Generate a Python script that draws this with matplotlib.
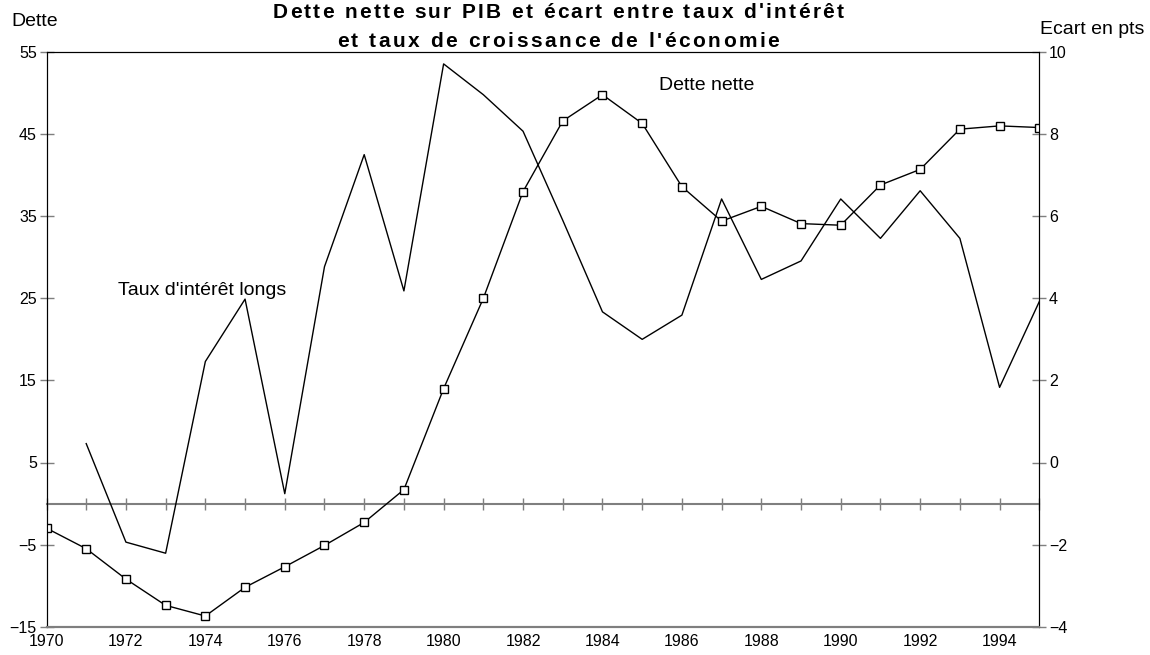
import numpy as np
import matplotlib
matplotlib.use("Agg")
import matplotlib.pyplot as plt

plt.rcParams['font.family'] = ['Liberation Sans', 'DejaVu Sans']

# donnees
annees = list(range(1970, 1996))
dette_nette = [-3.0, -5.5, -9.2, -12.4, -13.7, -10.2, -7.7, -5.1, -2.3, 1.7,
               14.0, 25.0, 38.0, 46.6, 49.8, 46.3, 38.6, 34.4, 36.2, 34.1,
               33.9, 38.8, 40.7, 45.6, 46.0, 45.8]
annees_taux = list(range(1971, 1996))
ecart_taux = [0.46, -1.94, -2.21, 2.46, 3.98, -0.76, 4.77, 7.50, 4.18, 9.71,
              8.96, 8.07, 5.9, 3.67, 3.0, 3.59, 6.42, 4.46, 4.91, 6.42,
              5.46, 6.62, 5.46, 1.83, 3.92]

ticks_gauche = [-15, -5, 5, 15, 25, 35, 45, 55]
ticks_droite = [-4, -2, 0, 2, 4, 6, 8, 10]
annees_labels = list(range(1970, 1996, 2))

W, H = 1150, 655
gris = '#7f7f7f'

fig = plt.figure(figsize=(W / 100, H / 100), dpi=100)
ax = fig.add_axes([46.5 / W, 1 - 626.7 / H, (1039.3 - 46.5) / W, (626.7 - 52) / H])
ax2 = ax.twinx()

ax.plot(annees, dette_nette, color='black', lw=1.0, marker='s', ms=6,
        mfc='white', mec='black', mew=1.0, zorder=3)
ax2.plot(annees_taux, ecart_taux, color='black', lw=1.0, zorder=3)

ax.set_xlim(1970, 1995)
ax.set_ylim(-15, 55)
ax2.set_ylim(-4, 10)

ax.set_yticks(ticks_gauche)
ax2.set_yticks(ticks_droite)
ax.set_xticks(annees_labels)

# axe du bas : labels seulement
ax.tick_params(axis='x', length=0, pad=5, labelsize=11.5)
ax.tick_params(axis='y', direction='inout', length=10, width=1, color=gris,
               labelsize=11.5, pad=2)
ax2.tick_params(axis='y', direction='inout', length=10, width=1, color=gris,
                labelsize=11.5, pad=2)

for a in (ax, ax2):
    a.spines['top'].set_color('black')
    a.spines['left'].set_color('black')
    a.spines['right'].set_color('black')
    a.spines['bottom'].set_color(gris)
    a.spines['bottom'].set_linewidth(1.5)

# ligne du zero avec graduations annuelles
zero = ax.secondary_xaxis(15 / 70)
zero.set_xticks(annees)
zero.tick_params(axis='x', direction='inout', length=9, width=1, color=gris,
                 labelbottom=False, labeltop=False)
for cote in ('top', 'bottom'):
    zero.spines[cote].set_color(gris)
    zero.spines[cote].set_linewidth(1.5)

ax.text(1973.93, 26.0, "Taux d'intérêt longs", ha='center', va='center', fontsize=14)
ax.text(1986.62, 50.9, "Dette nette", ha='center', va='center', fontsize=14)

fig.text(11 / W, 1 - 21.5 / H, "Dette", ha='left', va='center', fontsize=14)
fig.text(1040 / W, 1 - 29 / H, "Ecart en pts", ha='left', va='center', fontsize=14)


def texte_espace(xc, y_base, s, esp, **kw):
    """titre avec espacement entre les lettres (x, y en pixels depuis le haut)"""
    r = fig.canvas.get_renderer()

    def larg(t):
        tt = fig.text(0, 0, t, **kw)
        w = tt.get_window_extent(r).width
        tt.remove()
        return w

    base = larg('nn')
    largeurs = [larg('n' + c + 'n') - base for c in s]
    total = sum(largeurs) + esp * (len(s) - 1)
    x = xc - total / 2
    for c, w in zip(s, largeurs):
        fig.text(x / W, 1 - y_base / H, c, ha='left', va='baseline', **kw)
        x += w + esp


texte_espace(558, 17.5, "Dette nette sur PIB et écart entre taux d'intérêt", 2.3,
             fontsize=15, fontweight='bold')
texte_espace(558, 47, "et taux de croissance de l'économie", 2.5,
             fontsize=15, fontweight='bold')

fig.savefig('out.png', dpi=100)
